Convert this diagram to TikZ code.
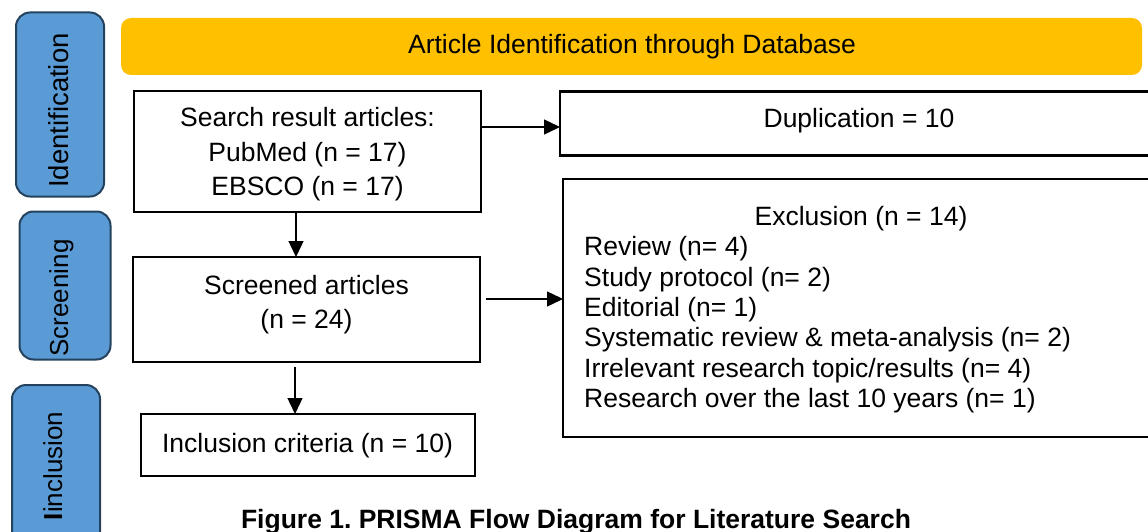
\documentclass[tikz,border=0pt]{standalone}
\usepackage{fontspec}
\setmainfont{Liberation Sans}
\usetikzlibrary{arrows.meta}
\definecolor{bannerfill}{HTML}{FFC000}
\definecolor{stagefill}{HTML}{5B9BD5}
\definecolor{stageline}{HTML}{24425E}
\tikzset{
  flowbox/.style={draw=black, line width=2.4pt, inner sep=0pt, outer sep=0pt},
  stagebox/.style={draw=stageline, fill=stagefill, line width=2pt,
    rounded corners=14pt, inner sep=0pt, outer sep=0pt},
  banner/.style={fill=bannerfill, rounded corners=10pt, inner sep=0pt, outer sep=0pt},
  txt/.style={font=\fontsize{26.5}{31}\selectfont, inner sep=0pt, anchor=base},
  itemtxt/.style={txt, anchor=base west},
  stagetxt/.style={font=\fontsize{26}{30}\selectfont, inner sep=0pt, rotate=90, anchor=base},
  captxt/.style={font=\fontsize{26.5}{31}\selectfont\bfseries, inner sep=0pt, anchor=base},
  arr/.style={line width=1.4pt, -{Triangle[length=16pt,width=15pt]}},
}
\begin{document}
\frenchspacing
\begin{tikzpicture}[x=1pt,y=-1pt]
\useasboundingbox (0,0) rectangle (1148,532);
\clip (0,0) rectangle (1148,532);

% stage labels on the left
\node[stagebox, minimum width=88pt, minimum height=184pt] (sident) at (60,104.5) {};
\node[stagebox, minimum width=91pt, minimum height=148pt] (sscreen) at (65,285.5) {};
\node[stagebox, minimum width=88pt, minimum height=165pt] (sincl) at (56,467.5) {};
\node[stagetxt, font=\fontsize{27.5}{32}\selectfont] (tident) at (68,110.5) {Identification};
\node[stagetxt] (tscreen) at (68,298) {Screening};
\node[stagetxt] (tincl) at (62,466) {\textbf{I}inclusion};

% banner
\node[banner, minimum width=1021pt, minimum height=57pt] (bar) at (631.5,46.5) {};
\node[txt] (tbar) at (632,54) {Article Identification through Database};

% flow boxes
\node[flowbox, minimum width=347pt, minimum height=121pt] (search) at (307.5,151.5) {};
\node[txt] (s1) at (307.5,127) {Search result articles:};
\node[txt] (s2) at (307.5,161) {PubMed (n = 17)};
\node[txt] (s3) at (307.5,195) {EBSCO (n = 17)};

\node[flowbox, minimum width=604pt, minimum height=64pt] (dup) at (862,123.5) {};
\node[txt] (tdup) at (859,128) {Duplication = 10};

\node[flowbox, minimum width=347pt, minimum height=105pt] (screen) at (306.5,309.5) {};
\node[txt] (c1) at (306.5,294) {Screened articles};
\node[txt] (c2) at (306.5,328) {(n = 24)};

\node[flowbox, minimum width=600pt, minimum height=258pt] (excl) at (863,308) {};
\node[txt] (ehead) at (861,225) {Exclusion (n = 14)};
\node[itemtxt] (e1) at (584,255.5) {Review (n= 4)};
\node[itemtxt] (e2) at (584,286) {Study protocol (n= 2)};
\node[itemtxt] (e3) at (584,316) {Editorial (n= 1)};
\node[itemtxt] (e4) at (584,346.5) {Systematic review \& meta-analysis (n= 2)};
\node[itemtxt] (e5) at (584,377) {Irrelevant research topic/results (n= 4)};
\node[itemtxt] (e6) at (584,407.5) {Research over the last 10 years (n= 1)};

\node[flowbox, minimum width=334pt, minimum height=62pt] (incl) at (308,445) {};
\node[txt] (tincl2) at (307.5,452) {Inclusion criteria (n = 10)};

% caption
\node[captxt] (cap) at (576,528) {Figure 1. PRISMA Flow Diagram for Literature Search};

% connectors
\coordinate (ydup) at (0,127);
\coordinate (yexc) at (0,299);
\draw[arr] (search.east |- ydup) -- (dup.west |- ydup);
\draw[arr] (search.south -| 296,0) -- (screen.north -| 296,0);
\draw[arr, shorten <=6pt] (screen.east |- yexc) -- (excl.west |- yexc);
\draw[arr, shorten <=5pt] (screen.south -| 295,0) -- (incl.north -| 295,0);
\end{tikzpicture}
\end{document}
